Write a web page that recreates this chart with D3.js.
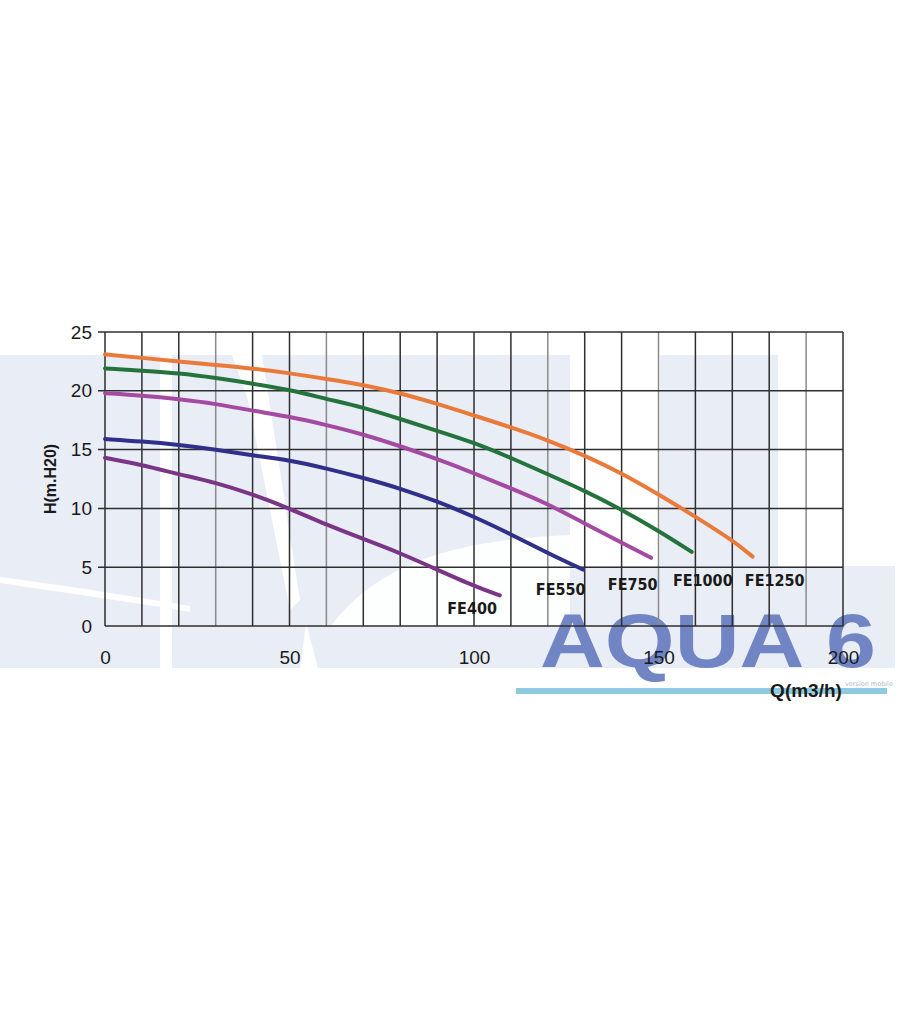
<!DOCTYPE html>
<html><head><meta charset="utf-8">
<script src="https://cdn.jsdelivr.net/npm/d3@7"></script>
<style>body{margin:0;background:#fff}svg{display:block}</style>
</head><body>
<svg id="c" width="900" height="1030"></svg>
<script>
// ---- data ----
const models = ["FE400","FE550","FE750","FE1000","FE1250"];
const FE400  = [[0,14.3],[10,13.7],[20,12.9],[30,12.2],[40,11.2],[50,10.0],[60,8.6],[70,7.4],[80,6.2],[90,4.8],[100,3.4],[107,2.6]];
const FE550  = [[0,15.9],[10,15.7],[20,15.4],[30,15.0],[40,14.5],[50,14.1],[60,13.4],[70,12.6],[80,11.7],[90,10.6],[100,9.3],[110,7.8],[120,6.2],[129.5,4.8]];
const FE750  = [[0,19.8],[10,19.6],[20,19.3],[30,18.9],[40,18.3],[50,17.8],[60,17.1],[70,16.3],[80,15.3],[90,14.2],[100,13.0],[110,11.7],[120,10.4],[130,8.7],[140,7.1],[148,5.8]];
const FE1000 = [[0,21.9],[10,21.7],[20,21.5],[30,21.1],[40,20.6],[50,20.1],[60,19.3],[70,18.6],[80,17.6],[90,16.6],[100,15.6],[110,14.3],[120,12.9],[130,11.5],[140,9.9],[150,8.1],[159,6.3]];
const FE1250 = [[0,23.1],[10,22.8],[20,22.5],[30,22.2],[40,21.9],[50,21.5],[60,21.0],[70,20.5],[80,19.8],[90,18.9],[100,17.9],[110,16.9],[120,15.8],[130,14.5],[140,13.0],[150,11.2],[160,9.3],[170,7.3],[175.5,5.9]];
const seriesData = [FE400, FE550, FE750, FE1000, FE1250];
const colors = ["#7b3587","#30308a","#a54aa2","#25733c","#ea7a3a"];
// label anchor (flow, head) per model
const labelPos = [[99.5,1.0],[123.5,2.6],[143,3.1],[162,3.4],[181.5,3.4]];
const xTicks = [0,50,100,150,200];
const yTicks = [0,5,10,15,20,25];
const xGrid = d3.range(0,201,10);
const lightGrid = [30,60,120,150,190];

const svg = d3.select("#c");
const x = d3.scaleLinear().domain([0,200]).range([105,843]);
const y = d3.scaleLinear().domain([0,25]).range([626,332]);

// ---- watermark background ----
const wm = svg.append("g").attr("fill","#e9edf6");
const shapes = [
  [[0,355],[160,355],[160,668],[0,668]],
  [[172,355],[232,355],[312,580],[300,668],[172,668]],
  [[262,355],[330,355],[330,668],[318,668],[300,600]],
  [[330,355],[443,355],[443,668],[330,668]],
  [[443,355],[570,355],[570,668],[443,668]],
  [[660,355],[778,355],[778,668],[660,668]],
  [[570,566],[895,566],[895,668],[570,668]]
];
shapes.forEach(s=>wm.append("path").attr("d",d3.line()(s)+"Z"));
// white streaks
svg.append("path").attr("fill","#fff")
  .attr("d","M0,583 C60,592 120,600 190,612 L190,606 C120,594 60,585 0,577 Z");
svg.append("path").attr("fill","#fff")
  .attr("d","M240,360 L262,360 L300,600 L290,610 Z");
svg.append("path").attr("fill","#fff")
  .attr("d","M330,627 C380,560 460,540 570,535 L570,627 Z").attr("opacity",0.9);

// watermark text
svg.append("text").attr("x",540).attr("y",667)
  .attr("font-family","Liberation Sans, Arial, sans-serif").attr("font-weight","bold").attr("font-size",76)
  .attr("fill","#7185c5").attr("textLength",336).attr("lengthAdjust","spacingAndGlyphs")
  .text("AQUA 6");
svg.append("rect").attr("x",516).attr("y",688).attr("width",371).attr("height",6).attr("fill","#8ecbe0");
svg.append("text").attr("x",845).attr("y",686).attr("font-family","DejaVu Sans").attr("font-size",6.5)
  .attr("fill","#b0b8c8").text("version mobile");

// ---- grid ----
const g = svg.append("g");
g.selectAll("line.v").data(xGrid).join("line")
  .attr("x1",d=>x(d)).attr("x2",d=>x(d)).attr("y1",y(25)).attr("y2",y(0))
  .attr("stroke",d=>lightGrid.includes(d)?"#8a8a8a":"#2e2e2e").attr("stroke-width",1.5);
g.selectAll("line.h").data(yTicks).join("line")
  .attr("x1",d=>d===0?x(0):x(0)-7).attr("x2",x(200)).attr("y1",d=>y(d)).attr("y2",d=>y(d))
  .attr("stroke","#2e2e2e").attr("stroke-width",1.5);

// ---- axes labels ----
const yAxis = svg.append("g").attr("transform",`translate(${x(0)},0)`)
  .call(d3.axisLeft(y).tickValues(yTicks).tickSize(7).tickPadding(6));
yAxis.select(".domain").remove();
yAxis.selectAll("line").remove();
yAxis.selectAll("text").attr("font-family","Liberation Sans, Arial, sans-serif").attr("font-size",19).attr("fill","#1a1a1a");

const xAxis = svg.append("g").attr("transform",`translate(0,${y(0)})`)
  .call(d3.axisBottom(x).tickValues(xTicks).tickSize(0).tickPadding(25));
xAxis.select(".domain").remove();
xAxis.selectAll("text").attr("font-family","Liberation Sans, Arial, sans-serif").attr("font-size",19).attr("fill","#1a1a1a");

// axis titles
svg.append("text").attr("transform","translate(56,479) rotate(-90)").attr("text-anchor","middle")
  .attr("font-family","Liberation Sans, Arial, sans-serif").attr("font-weight","bold").attr("font-size",16)
  .attr("fill","#1a1a1a").text("H(m.H20)");
svg.append("text").attr("x",806).attr("y",697).attr("text-anchor","middle")
  .attr("font-family","Liberation Sans, Arial, sans-serif").attr("font-weight","bold").attr("font-size",19)
  .attr("fill","#1a1a1a").text("Q(m3/h)");

// ---- curves ----
const line = d3.line().x(d=>x(d[0])).y(d=>y(d[1])).curve(d3.curveBasis);
svg.append("g").selectAll("path").data(seriesData).join("path")
  .attr("d",line).attr("fill","none").attr("stroke",(d,i)=>colors[i])
  .attr("stroke-width",4).attr("stroke-linecap","round").attr("stroke-linejoin","round");

// ---- curve labels ----
svg.append("g").selectAll("text").data(models).join("text")
  .attr("x",(d,i)=>x(labelPos[i][0])).attr("y",(d,i)=>y(labelPos[i][1])).attr("text-anchor","middle")
  .attr("font-family","DejaVu Sans Condensed, DejaVu Sans, sans-serif").attr("font-stretch","condensed")
  .attr("font-weight","bold").attr("font-size",16).attr("fill","#1a1a1a").text(d=>d);
</script>
</body></html>
